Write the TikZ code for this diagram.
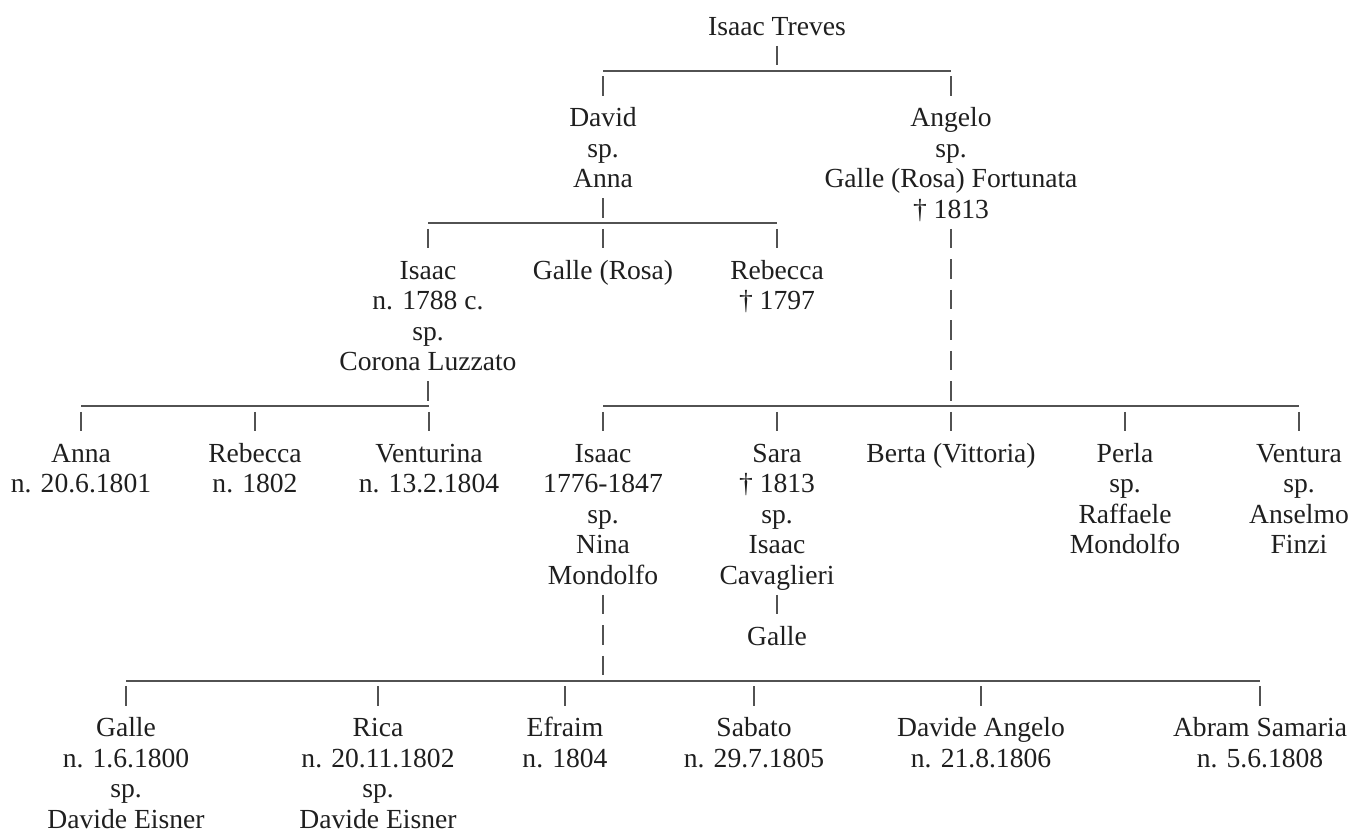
\documentclass[tikz,border=0pt]{standalone}
\usepackage{fontspec}
\setmainfont{Liberation Serif}
\newcommand\vtick[2]{\draw[tick] (#1 |- 0,#2-0.32) -- (#1 |- 0,#2+0.32);}
\begin{document}
\begin{tikzpicture}[x=0.5pt,y=-15.25pt,
	person/.style={anchor=base,align=center,inner sep=0pt,text=black!88,
		font=\fontsize{13.8}{15.25}\selectfont},
	hrule/.style={draw=black!68,line width=0.8pt},
	tick/.style={draw=black!68,line width=0.9pt}]
	\useasboundingbox (0,-0.82) rectangle (1349,26.52);

	% Persons (placed at the baseline of their last line)
	\node[person] (treves) at (777,0.33) {Isaac Treves};
	% sons
	\node[person] (david) at (603,5.33) {David\\sp.\\Anna};
	\node[person] (angelo) at (951,6.33) {Angelo\\sp.\\Galle (Rosa) Fortunata\\† 1813};
	% children of David
	\node[person] (isaac) at (428,11.33) {Isaac\\n. 1788 c.\\sp.\\Corona Luzzato};
	\node[person] (galle) at (603,8.33) {Galle (Rosa)};
	\node[person] (rebecca) at (777,9.33) {Rebecca\\† 1797};
	% children of Isaac
	\node[person] (anna) at (81,15.33) {Anna\\n. 20.6.1801};
	\node[person] (rebeccb) at (255,15.33) {Rebecca\\n. 1802};
	\node[person] (venturina) at (429,15.33) {Venturina\\n. 13.2.1804};
	% children of Angelo
	\node[person] (isaacb) at (603,18.33) {Isaac\\1776-1847\\sp.\\Nina\\Mondolfo};
	\node[person] (sara) at (777,18.33) {Sara\\† 1813\\sp.\\Isaac\\Cavaglieri};
	\node[person] (gallec) at (777,20.33) {Galle};
	\node[person] (berta) at (951,14.33) {Berta (Vittoria)};
	\node[person] (perla) at (1125,17.33) {Perla\\sp.\\Raffaele\\Mondolfo};
	\node[person] (ventura) at (1299,17.33) {Ventura\\sp.\\Anselmo\\Finzi};
	% children of Isaac and Nina
	\node[person] (galleb) at (126,26.33) {Galle\\n. 1.6.1800\\sp.\\Davide Eisner};
	\node[person] (rica) at (378,26.33) {Rica\\n. 20.11.1802\\sp.\\Davide Eisner};
	\node[person] (efraim) at (565,24.33) {Efraim\\n. 1804};
	\node[person] (sabato) at (754,24.33) {Sabato\\n. 29.7.1805};
	\node[person] (davide) at (981,24.33) {Davide Angelo\\n. 21.8.1806};
	\node[person] (abram) at (1260,24.33) {Abram Samaria\\n. 5.6.1808};

	% horizontal rules
	\draw[hrule] (david |- 0,1.5) -- (angelo |- 0,1.5);
	\draw[hrule] (isaac |- 0,6.5) -- (rebecca |- 0,6.5);
	\draw[hrule] (anna |- 0,12.5) -- (venturina |- 0,12.5);
	\draw[hrule] (isaacb |- 0,12.5) -- (ventura |- 0,12.5);
	\draw[hrule] (galleb |- 0,21.5) -- (abram |- 0,21.5);

	% vertical ticks
	\vtick{treves}{1}
	\vtick{david}{2}
	\vtick{angelo}{2}
	\vtick{david}{6}
	\vtick{isaac}{7}
	\vtick{galle}{7}
	\vtick{rebecca}{7}
	\vtick{angelo}{7}
	\vtick{angelo}{8}
	\vtick{angelo}{9}
	\vtick{angelo}{10}
	\vtick{angelo}{11}
	\vtick{angelo}{12}
	\vtick{isaac}{12}
	\vtick{anna}{13}
	\vtick{rebeccb}{13}
	\vtick{venturina}{13}
	\vtick{isaacb}{13}
	\vtick{sara}{13}
	\vtick{berta}{13}
	\vtick{perla}{13}
	\vtick{ventura}{13}
	\vtick{isaacb}{19}
	\vtick{isaacb}{20}
	\vtick{isaacb}{21}
	\vtick{sara}{19}
	\vtick{galleb}{22}
	\vtick{rica}{22}
	\vtick{efraim}{22}
	\vtick{sabato}{22}
	\vtick{davide}{22}
	\vtick{abram}{22}
\end{tikzpicture}
\end{document}
